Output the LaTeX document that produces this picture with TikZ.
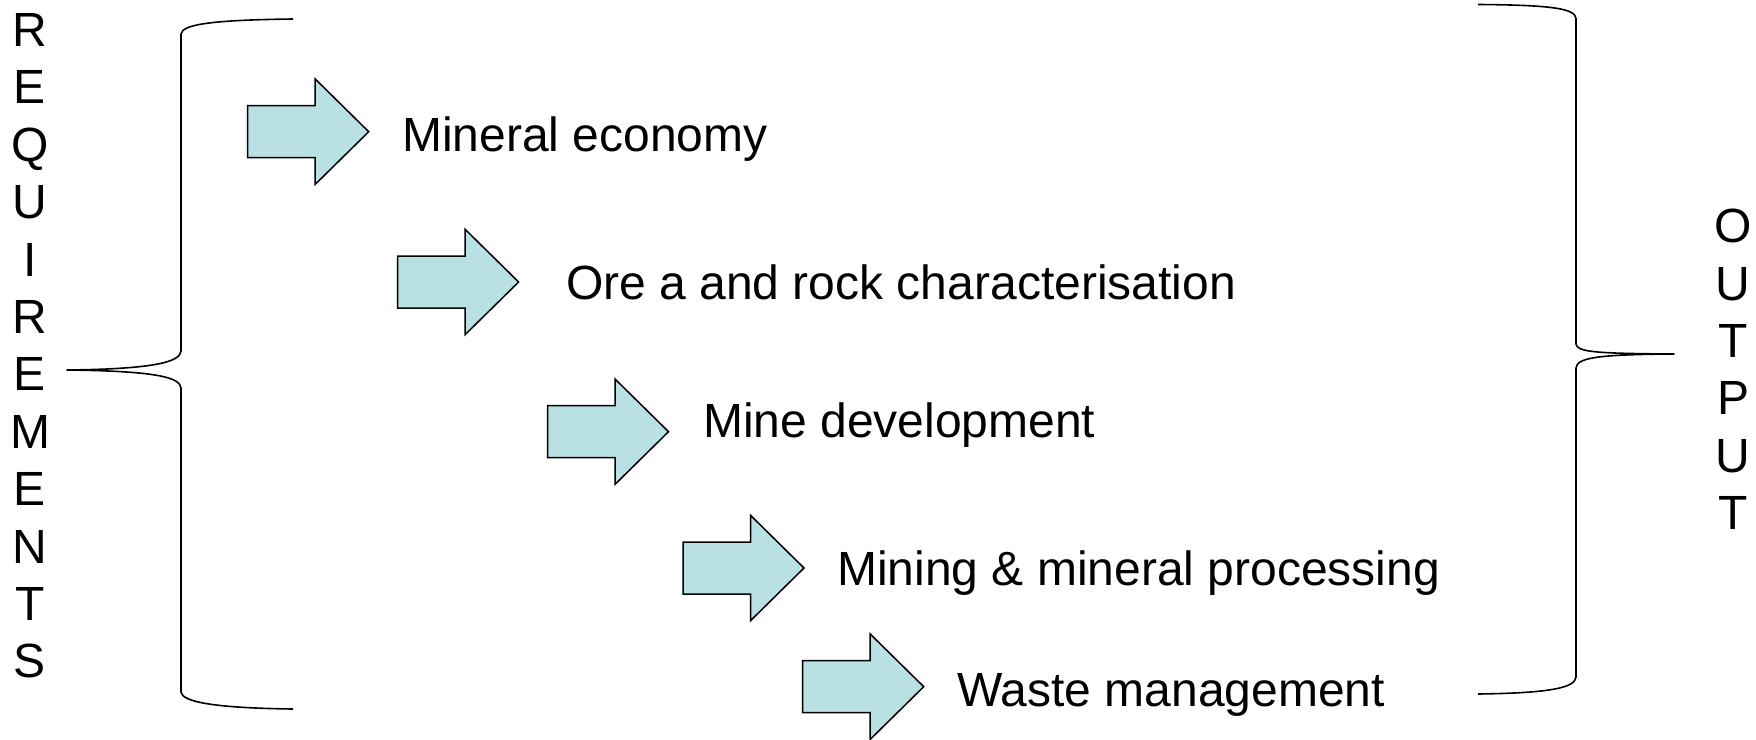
\documentclass[tikz,border=0pt]{standalone}
\usepackage{fontspec}
\setmainfont{Liberation Sans}
\definecolor{arrfill}{RGB}{185,224,227}
\begin{document}
\begin{tikzpicture}[x=1pt,y=-1pt,
  bracestyle/.style={line width=1.6pt,line join=round},
  fatarrow/.style={draw=black,line width=1.5pt,fill=arrfill,line join=miter},
  label/.style={anchor=base west,inner sep=0pt,font=\fontsize{48}{57.4}\selectfont},
  vertword/.style={anchor=north,inner sep=0pt,align=center,font=\fontsize{48}{57.4}\selectfont},
  pics/bigarrow/.style={code={
    \draw[fatarrow] (0,-26) -- (67.5,-26) -- (67.5,-52.7) -- (121,0) -- (67.5,52.7) -- (67.5,26) -- (0,26) -- cycle;
    \coordinate (-tip) at (121,0);
  }}
]
\useasboundingbox (0,0) rectangle (1756,739);

% vertical words
\node[vertword] (req) at (30,13.3) {R\\E\\Q\\U\\I\\R\\E\\M\\E\\N\\T\\S};
\node[vertword] (out) at (1733,209) {O\\U\\T\\P\\U\\T};

% left brace
\coordinate (lbtop) at (293,19);
\coordinate (lbtip) at (67,370);
\coordinate (lbbot) at (293,709);
\draw[bracestyle] (lbtop) .. controls (215,20) and (182,24) .. (181,34)
  -- (181,351) .. controls (180,361) and (160,369) .. (lbtip)
  .. controls (160,371) and (180,378) .. (181,388)
  -- (181,692) .. controls (182,702) and (215,708) .. (lbbot);

% right brace
\coordinate (rbtop) at (1478,4.5);
\coordinate (rbtip) at (1674,354);
\coordinate (rbbot) at (1478,694);
\draw[bracestyle] (rbtop) .. controls (1555,5) and (1575,9) .. (1576,18.5)
  -- (1576,344) .. controls (1577,352) and (1595,353.5) .. (rbtip)
  .. controls (1595,354.5) and (1577,358) .. (1576,368)
  -- (1576,677) .. controls (1575,687) and (1555,693) .. (rbbot);

% arrows
\pic (a1) at (247.7,131.7) {bigarrow};
\pic (a2) at (397.6,282) {bigarrow};
\pic (a3) at (547.5,431.7) {bigarrow};
\pic (a4) at (683,568) {bigarrow};
\pic (a5) at (802.7,686.7) {bigarrow};

% labels
\node[label] (t1) at (402,151) {Mineral economy};
\node[label] (t2) at (566,299) {Ore a and rock characterisation};
\node[label] (t3) at (703,437) {Mine development};
\node[label] (t4) at (837,585) {Mining \& mineral processing};
\node[label] (t5) at (957,706.5) {Waste management};
\end{tikzpicture}
\end{document}
